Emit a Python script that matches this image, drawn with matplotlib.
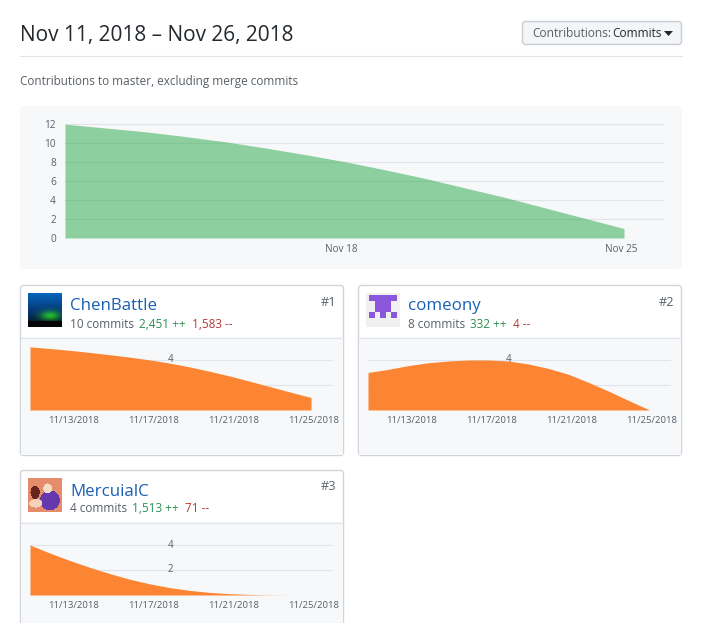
"""
GitHub contributors page for Nov 11 - Nov 26, 2018
"""

import matplotlib
matplotlib.use("Agg")
import matplotlib.pyplot as plt
import numpy as np
from matplotlib.patches import FancyBboxPatch, Rectangle, Polygon
from matplotlib.transforms import ScaledTranslation

plt.rcParams['font.family'] = ['Open Sans', 'Noto Sans', 'DejaVu Sans']

W, H = 710, 623
DAYS = list(range(11, 26))

TOTAL = [12, 11.6, 11.2, 10.7, 10.15, 9.5, 8.8, 8.05, 7.2, 6.3, 5.3, 4.3, 3.2, 2.1, 1.0]
CHEN = [5.05, 4.92, 4.77, 4.6, 4.42, 4.22, 4.0, 3.74, 3.43, 3.08, 2.7, 2.28, 1.85, 1.42, 1.0]
COME = [3.0, 3.25, 3.55, 3.78, 3.92, 4.0, 4.0, 3.92, 3.68, 3.32, 2.85, 2.2, 1.5, 0.75, 0.02]
MERC = [4.0, 3.35, 2.75, 2.2, 1.7, 1.25, 0.88, 0.58, 0.36, 0.2, 0.1, 0.04, 0.01, 0.0, 0.0]

TOTAL_TICKS = [0, 2, 4, 6, 8, 10, 12]
TOTAL_DATES = [18, 25]
TOTAL_LABELS = ["Nov 18", "Nov 25"]
CARD_DATES = [13, 17, 21, 25]
CARD_LABELS = ["11/13/2018", "11/17/2018", "11/21/2018", "11/25/2018"]

NAMES = ["ChenBattle", "comeony", "MercuialC"]
COMMITS = ["10 commits", "8 commits", "4 commits"]
ADDS = ["2,451 ++", "332 ++", "1,513 ++"]
DELS = ["1,583 --", "4 --", "71 --"]
RANKS = ["#1", "#2", "#3"]

# avatar of comeony, 5x5 identicon
IDENTICON = [[1, 1, 1, 1, 1],
             [0, 1, 1, 1, 0],
             [0, 1, 1, 1, 0],
             [1, 0, 1, 0, 1],
             [0, 0, 0, 0, 0]]

GRID = "#e1e4e8"
PANEL = "#f6f8fa"
BORDER = "#d1d5da"
TEXT = "#24292e"
MUTED = "#586069"
BLUE = "#1a5fb4"
GREEN_TXT = "#2c8f52"
RED_TXT = "#b33a3a"


def px_axes(fig, x0, y0, x1, y1, **kw):
    return fig.add_axes([x0 / W, 1 - y1 / H, (x1 - x0) / W, (y1 - y0) / H], **kw)


def rounded(bg, x0, y0, x1, y1, fc, ec="none", r=3, lw=1, z=1):
    bg.add_patch(FancyBboxPatch((x0, y0), x1 - x0, y1 - y0, boxstyle=f"round,pad=0,rounding_size={r}",
                                fc=fc, ec=ec, lw=lw, zorder=z))


def draw_area(fig, values, box, xlim, ylim, color, alpha, yticks, dates, labels, lab_dx, size, pad=5):
    ax = px_axes(fig, *box)
    ax.patch.set_alpha(0)
    ax.fill_between(DAYS, values, color=color, alpha=alpha, lw=0, zorder=3)
    ax.set_xlim(*xlim)
    ax.set_ylim(*ylim)
    for s in ax.spines.values():
        s.set_visible(False)
    ax.set_yticks(yticks)
    ax.yaxis.grid(True, color=GRID, lw=0.8, zorder=1)
    ax.set_axisbelow(True)
    ax.set_xticks(dates)
    ax.set_xticklabels(labels, fontsize=size, color=MUTED)
    ax.tick_params(axis="both", length=0)
    ax.tick_params(axis="x", pad=pad)
    shift = ScaledTranslation(lab_dx / 100, 0, fig.dpi_scale_trans)
    for lab in ax.get_xticklabels():
        lab.set_transform(lab.get_transform() + shift)
    return ax


fig = plt.figure(figsize=(W / 100, H / 100), dpi=100, facecolor="white")
bg = fig.add_axes([0, 0, 1, 1], zorder=0)
bg.set_xlim(0, W)
bg.set_ylim(H, 0)
bg.axis("off")

# header
bg.text(20, 36, "Nov 11, 2018 – Nov 26, 2018", fontsize=15, color=TEXT, va="center", ha="left")
bg.plot([20, 682], [56, 56], color=GRID, lw=0.8)
bg.text(20, 81, "Contributions to master, excluding merge commits", fontsize=8.5, color=MUTED, va="center")

# button
rounded(bg, 522.5, 21.5, 681.5, 44.5, "#f3f5f7", ec="#c9ced4")
bg.text(532, 33.5, "Contributions:", fontsize=8.6, color=MUTED, va="center")
bg.text(612.5, 33.5, "Commits", fontsize=8.6, color=TEXT, va="center")
bg.add_patch(Polygon([[664, 31], [673, 31], [668.5, 36]], fc=TEXT, ec="none"))

# total panel
rounded(bg, 20, 106, 682, 269, PANEL, r=4)
# day 11 at px 65, day 25 at px 624
per_day = (624 - 65) / 14
ax = draw_area(fig, TOTAL, (65, 118, 664, 238),
               (11, 11 + (664 - 65) / per_day), (0, 118 / 9.33 + 0.0), "#28a745", 0.5,
               TOTAL_TICKS, TOTAL_DATES, TOTAL_LABELS, -3, 7.2, pad=4)
ax.set_yticklabels([str(t) for t in TOTAL_TICKS], fontsize=7.3, color=MUTED)
ax.tick_params(axis="y", pad=6.5)

# contributor cards
cards = [(20, 285, 344, 456, 30, CHEN, [0, 2, 4]),
         (358, 285, 682, 456, 368, COME, [0, 2, 4]),
         (20, 470, 344, 640, 30, MERC, [0, 2, 4])]
for i, (x0, y0, x1, y1, left, vals, ticks) in enumerate(cards):
    rounded(bg, x0 + .5, y0 + .5, x1 - .5, y1 - .5, "white", ec=BORDER, z=1)
    bg.add_patch(Rectangle((x0 + 1, y0 + 52), x1 - x0 - 2, y1 - y0 - 53, fc=PANEL, ec="none", zorder=1.1))
    bg.plot([x0 + 1, x1 - 1], [y0 + 52.5, y0 + 52.5], color=GRID, lw=0.8, zorder=1.2)
    bg.text(x0 + 50, y0 + 21.5, NAMES[i], fontsize=12.2, color=BLUE, va="center", zorder=2)
    # stats line, laid out one piece after another
    t = bg.text(x0 + 50, y0 + 39, COMMITS[i], fontsize=8.5, color=MUTED, va="center", zorder=2)
    fig.canvas.draw()
    r = fig.canvas.get_renderer()
    e = t.get_window_extent(r)
    t2 = bg.text(e.x1 + 5, y0 + 39, ADDS[i], fontsize=8.5, color=GREEN_TXT, va="center", zorder=2)
    e2 = t2.get_window_extent(r)
    bg.text(e2.x1 + 6, y0 + 39, DELS[i], fontsize=8.5, color=RED_TXT, va="center", zorder=2)
    bg.text(x1 - 8, y0 + 17, RANKS[i], fontsize=9.2, color=MUTED, va="center", ha="right", zorder=2)

    base = y0 + 125
    unit = 12.5
    day_px = (311 - 30) / 14
    a = draw_area(fig, vals, (left, y0 + 55, left + 303, base),
                  (11, 11 + 303 / day_px), (0, 70 / unit), "#fb8532", 1.0,
                  ticks, CARD_DATES, CARD_LABELS, 3, 6.8, pad=4.5)
    a.set_yticklabels([])
    # value labels sit mid-chart in the page
    for v in [t_ for t_ in ticks if t_ > 0]:
        if v == 4 or i == 2:
            a.text(18, v, str(v), fontsize=7, color=MUTED, ha="center", va="center", zorder=4)

# avatars
av1 = px_axes(fig, 28, 293, 62, 327)
yy, xx = np.mgrid[0:1:34j, 0:1:34j]
img = np.zeros((34, 34, 3))
img[..., 0] = 0.02
img[..., 1] = 0.36 * (1 - yy) + 0.05
img[..., 2] = 0.72 * np.clip(1 - yy * 1.1, 0, 1) ** 0.6 + 0.02
blob = np.exp(-(((xx - 0.66) / 0.3) ** 2 + ((yy - 0.68) / 0.14) ** 2))
img[..., 1] += 0.55 * blob
img[..., 0] += 0.12 * blob
img[..., 2] *= 1 - 0.5 * blob
img[yy > 0.84] = [0.02, 0.02, 0.03]
av1.imshow(np.clip(img, 0, 1), aspect="auto")
av1.axis("off")

av2 = px_axes(fig, 366, 293, 400, 327)
av2.set_facecolor("#f0f0f0")
av2.imshow(np.array(IDENTICON), cmap=matplotlib.colors.ListedColormap(["#f0f0f0", "#8a56dc"]),
           extent=(0.09, 0.91, 0.09, 0.93), aspect="auto")
av2.set_xlim(0, 1)
av2.set_ylim(0, 1)
av2.set_xticks([])
av2.set_yticks([])
for s in av2.spines.values():
    s.set_visible(False)

av3 = px_axes(fig, 28, 478, 62, 512)
yy3, xx3 = np.mgrid[0:1:34j, 0:1:34j]
img3 = np.ones((34, 34, 3)) * np.array([0.90, 0.55, 0.43])
m = ((xx3 - 0.65) / 0.3) ** 2 + ((yy3 - 0.66) / 0.3) ** 2 < 1
img3[m] = [0.40, 0.22, 0.68]
m2 = ((xx3 - 0.58) / 0.13) ** 2 + ((yy3 - 0.3) / 0.15) ** 2 < 1
img3[m2] = [0.95, 0.87, 0.78]
m3 = ((xx3 - 0.2) / 0.14) ** 2 + ((yy3 - 0.42) / 0.2) ** 2 < 1
img3[m3] = [0.40, 0.15, 0.12]
m4 = ((xx3 - 0.22) / 0.2) ** 2 + ((yy3 - 0.75) / 0.13) ** 2 < 1
img3[m4] = [0.96, 0.82, 0.72]
av3.imshow(img3, aspect="auto")
av3.axis("off")

fig.savefig("out.png", dpi=100)
